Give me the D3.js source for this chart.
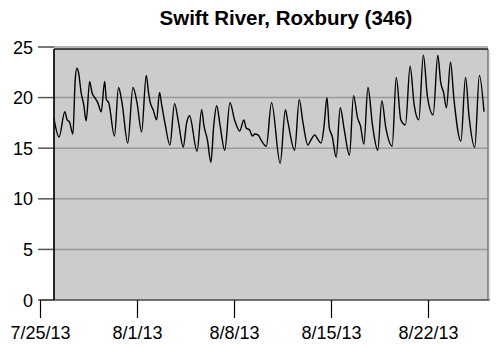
<!DOCTYPE html>
<html><head><meta charset="utf-8">
<script src="https://cdn.jsdelivr.net/npm/d3@7"></script>
<style>
html,body{margin:0;padding:0;background:#fff;}
svg{display:block;font-family:"Liberation Sans",Arial,sans-serif;}
</style></head>
<body><svg id="c" width="503" height="349"></svg>
<script>
const title = "Swift River, Roxbury (346)";
const xTickLabels = ["2013-07-25","2013-08-01","2013-08-08","2013-08-15","2013-08-22"];
const yTicks = [0,5,10,15,20,25];
const times = [
"07-26 00","07-26 09","07-26 19","07-26 23","07-27 03","07-27 09","07-27 13","07-27 16","07-27 19","07-27 23",
"07-28 04","07-28 08","07-28 14","07-28 18","07-29 00","07-29 04","07-29 10","07-29 16","07-29 19","07-29 23",
"07-30 09","07-30 16","07-30 22","07-31 08","07-31 17","08-01 00","08-01 08","08-01 16","08-01 20","08-01 23",
"08-02 04","08-02 10","08-02 15","08-02 19","08-03 01","08-03 09","08-03 17","08-04 00","08-04 08","08-04 14",
"08-04 19","08-05 08","08-05 16","08-05 20","08-06 02","08-06 08","08-06 13","08-06 18","08-07 00","08-07 08",
"08-07 17","08-08 01","08-08 10","08-08 17","08-08 21","08-09 03","08-09 08","08-09 12","08-09 18","08-09 23",
"08-10 08","08-10 17","08-11 08","08-11 17","08-11 21","08-12 09","08-12 17","08-12 23","08-13 08","08-13 13",
"08-13 20","08-14 01","08-14 07","08-14 12","08-14 17","08-14 21","08-15 02","08-15 09","08-15 16","08-15 23",
"08-16 08","08-16 15","08-16 22","08-17 03","08-17 09","08-17 16","08-18 00","08-18 09","08-18 16","08-18 23",
"08-19 10","08-19 17","08-20 01","08-20 09","08-20 17","08-21 00","08-21 08","08-21 16","08-21 23","08-22 09",
"08-22 17","08-22 22","08-23 03","08-23 08","08-23 15","08-23 21","08-24 09","08-24 17","08-24 23","08-25 09",
"08-25 17","08-26 01"];
const temps = [
18.0,16.1,18.6,17.8,17.6,16.4,21.8,22.9,22.4,20.6,
19.2,17.7,21.6,20.5,19.9,19.5,18.6,21.6,19.8,19.5,
16.2,21.0,19.5,15.5,21.0,19.5,16.6,22.2,20.5,19.5,
18.8,17.8,20.5,19.2,17.3,15.3,19.4,17.5,15.1,17.5,
18.2,14.7,18.8,17.2,15.8,13.6,17.3,19.2,17.2,14.8,
19.5,17.8,16.7,17.8,17.0,16.8,16.2,16.4,16.3,15.8,
15.2,19.5,13.5,18.8,17.7,14.8,19.8,17.7,15.3,15.8,
16.3,15.9,15.5,17.2,20.0,17.0,16.2,14.1,19.0,16.8,
14.3,20.2,18.0,17.2,15.4,21.0,17.2,14.8,19.7,17.0,
15.2,22.0,17.8,17.3,23.1,19.3,17.8,24.2,20.1,18.3,
24.2,21.5,20.5,19.0,23.5,19.8,15.7,22.0,18.2,15.1,
22.2,18.6];

const parse = d3.timeParse("%Y-%m-%d %H");
const data = times.map((t,i)=>({t: parse("2013-"+t), v: temps[i]}));
const tickDates = xTickLabels.map(s=>d3.timeParse("%Y-%m-%d")(s));

const svg = d3.select("#c");
const x = d3.scaleTime().domain([tickDates[0], tickDates[4]]).range([40, 428]);
const y = d3.scaleLinear().domain([0,25]).range([300, 47]);

const pL = 54, pR = 488, pT = 49, pB = 300;

// title
svg.append("text").attr("x",286).attr("y",25).attr("text-anchor","middle")
  .attr("font-size",20.5).attr("font-weight","bold").attr("fill","#000").text(title);

// plot background
svg.append("rect").attr("x",pL).attr("y",pT).attr("width",pR-pL).attr("height",pB-pT).attr("fill","#cccccc");

// gridlines + y ticks
svg.append("g").selectAll("line").data(yTicks).join("line")
  .attr("x1",38).attr("x2",pR).attr("y1",d=>y(d)).attr("y2",d=>y(d))
  .attr("stroke","#999").attr("stroke-width",1.5);
svg.append("g").selectAll("line").data(yTicks).join("line")
  .attr("x1",38).attr("x2",pL).attr("y1",d=>y(d)).attr("y2",d=>y(d))
  .attr("stroke","#555").attr("stroke-width",1.2);
svg.append("g").selectAll("text").data(yTicks).join("text")
  .attr("x",33).attr("y",d=>y(d)+6.5).attr("text-anchor","end")
  .attr("font-size",18).attr("fill","#000").text(d=>d);

// line
const line = d3.line().x(d=>x(d.t)).y(d=>y(d.v)).curve(d3.curveMonotoneX);
svg.append("path").datum(data).attr("d",line).attr("fill","none")
  .attr("stroke","#000").attr("stroke-width",1.4);

// plot border
svg.append("line").attr("x1",pR+1.5).attr("x2",pR+1.5).attr("y1",pT+2).attr("y2",pB).attr("stroke","#e6e6e6").attr("stroke-width",2);
svg.append("line").attr("x1",pR).attr("x2",pR).attr("y1",pT).attr("y2",pB).attr("stroke","#777").attr("stroke-width",1.5);
svg.append("line").attr("x1",pL).attr("x2",pR).attr("y1",pT).attr("y2",pT).attr("stroke","#111").attr("stroke-width",1.5);
svg.append("line").attr("x1",pL).attr("x2",pL).attr("y1",pT).attr("y2",pB).attr("stroke","#111").attr("stroke-width",1.8);

// x axis
const xAxis = d3.axisBottom(x).tickValues(tickDates).tickSize(18).tickSizeOuter(0)
  .tickFormat(d3.timeFormat("%-m/%-d/%y"));
const gx = svg.append("g").attr("transform",`translate(0,${pB})`).call(xAxis);
gx.select(".domain").remove();
gx.append("line").attr("x1",40).attr("x2",pR+2).attr("y1",0).attr("y2",0).attr("stroke","#333").attr("stroke-width",1.2);
gx.selectAll(".tick line").attr("stroke","#000").attr("stroke-width",1.2);
gx.selectAll(".tick text").attr("font-size",18).attr("fill","#000")
  .attr("font-family","Liberation Sans, Arial, sans-serif").attr("y",26).attr("dy","0.71em");
</script></body></html>
